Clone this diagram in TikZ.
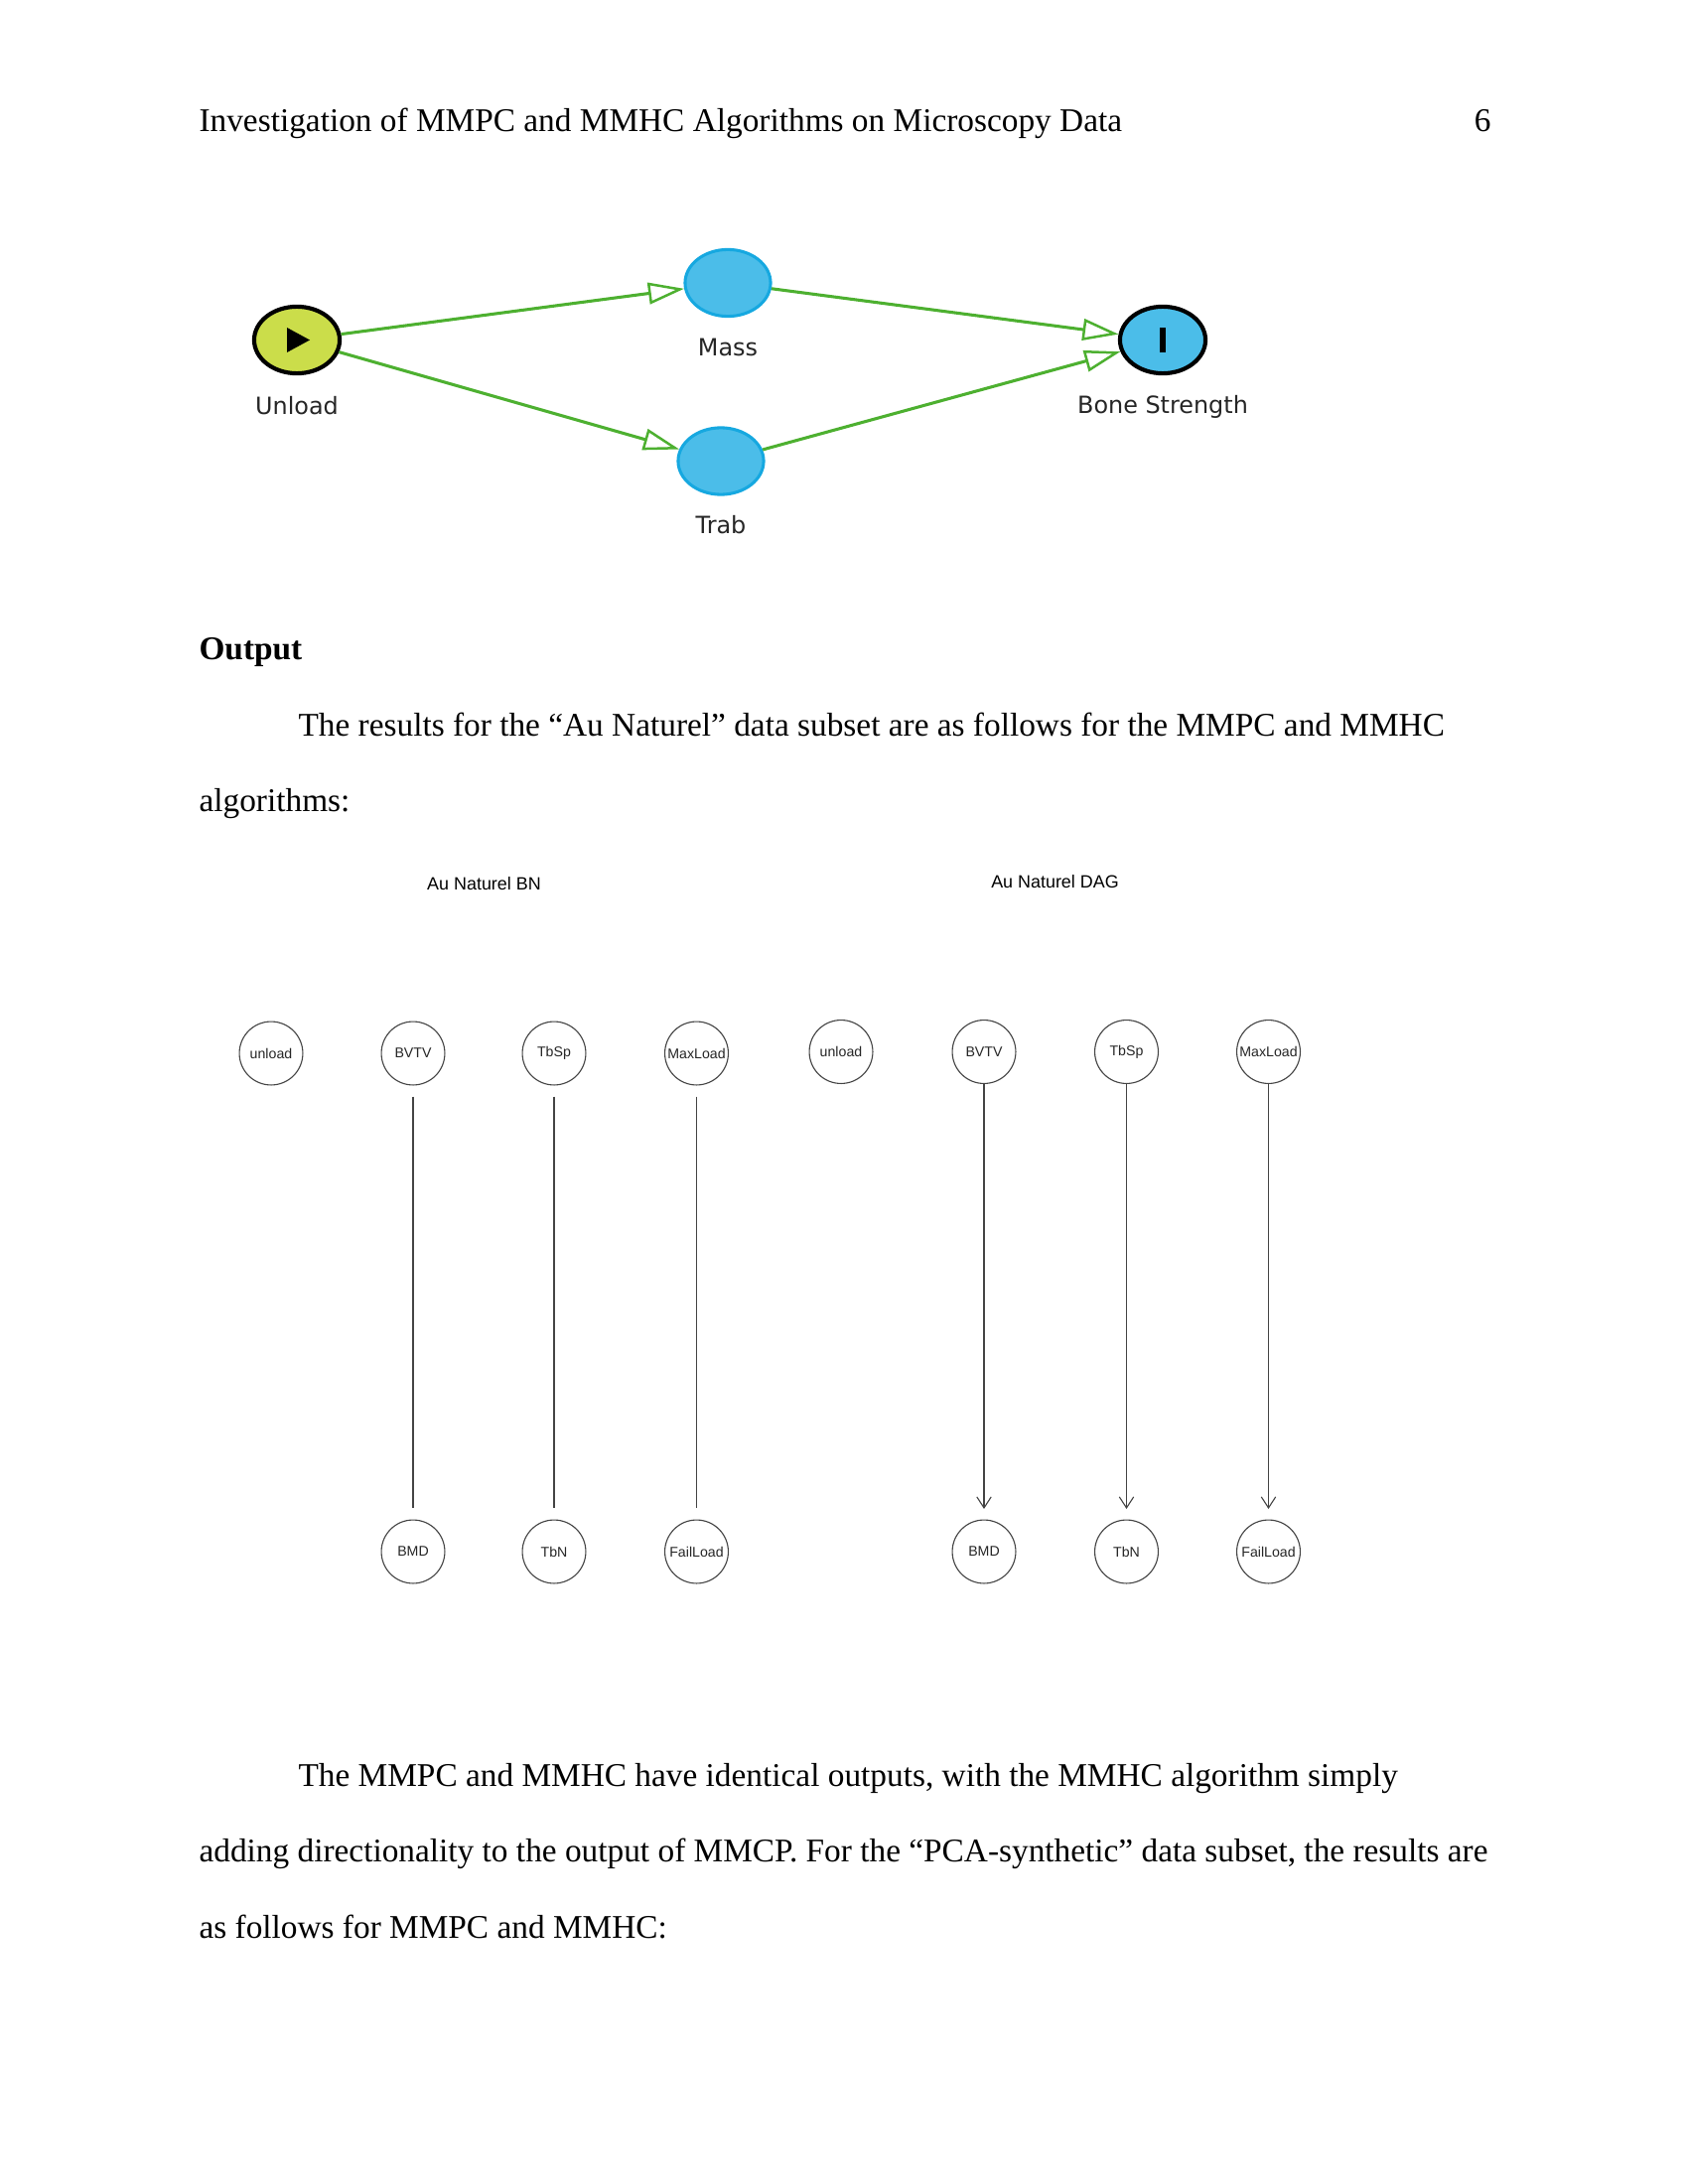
\documentclass[tikz,border=0pt]{standalone}
\usepackage{fontspec}
\setmainfont{Liberation Serif}
\newfontfamily\graphfont{Liberation Sans}
\newfontfamily\flowfont{DejaVu Sans}
\usetikzlibrary{arrows.meta,shapes.geometric}
\definecolor{flowgreen}{HTML}{4DB030}
\definecolor{flowblue}{HTML}{4BBDE9}
\definecolor{flowedge}{HTML}{16A8E0}
\definecolor{flowlime}{HTML}{CBDD4A}
\definecolor{graphline}{HTML}{444444}
\tikzset{
  x=0.36pt,y=-0.36pt,
  bodytext/.style={anchor=base west,inner sep=0pt,font=\fontsize{12}{12}\selectfont},
  flownode/.style={ellipse,minimum width=31pt,minimum height=24.2pt,inner sep=0pt,draw=flowedge,fill=flowblue,line width=1.1pt},
  flowstart/.style={flownode,draw=black,fill=flowlime,line width=1.5pt},
  flowend/.style={flownode,draw=black,line width=1.5pt},
  flowlabel/.style={inner sep=0pt,font=\flowfont\fontsize{8.6}{10}\selectfont,text=black!85},
  flowedgeline/.style={draw=flowgreen,line width=1.1pt,-{Triangle[open,length=13pt,width=7.8pt,line width=0.9pt]}},
  graphnode/.style={circle,draw=graphline,line width=0.4pt,minimum size=23pt,inner sep=0pt,font=\graphfont\fontsize{5.1}{6}\selectfont,text=black!85},
  graphtitle/.style={inner sep=0pt,font=\graphfont\fontsize{6.45}{8}\selectfont},
  undirectedline/.style={draw=graphline,line width=0.4pt,shorten <=4pt,shorten >=4pt},
  directedline/.style={draw=graphline,line width=0.4pt,shorten >=3.8pt,-{Straight Barb[length=4pt,width=5.2pt,line width=0.4pt]}},
}
\begin{document}
\begin{tikzpicture}
\useasboundingbox (0,0) rectangle (1700,2200);
\fill[white] (0,0) rectangle (1700,2200);
% header
\node[bodytext] (head) at (200,133) {Investigation of MMPC and MMHC Algorithms on Microscopy Data};
\node[bodytext,anchor=base east] (page) at (1502,133) {6};
% flow diagram
\node[flowstart] (unl) at (299,342.5) {};
\node[flownode] (mass) at (733,285) {};
\node[flownode] (trab) at (726,464.5) {};
\node[flowend] (bone) at (1171,342.5) {};
\fill[black] (289,330) -- (312,342.5) -- (289,355) -- cycle;
\fill[black] (1167.5,330) rectangle (1174,355);
\node[flowlabel] (l1) at (299,408.5) {Unload};
\node[flowlabel] (l2) at (733,349.5) {Mass};
\node[flowlabel] (l3) at (726,529) {Trab};
\node[flowlabel] (l4) at (1171,409.5) {Bone Strength};
\draw[flowedgeline] (unl) -- (mass);
\draw[flowedgeline] (unl) -- (trab);
\draw[flowedgeline] (mass) -- (bone);
\draw[flowedgeline] (trab) -- (bone);
% body text
\node[bodytext,font=\fontsize{12}{12}\selectfont\bfseries] (out) at (200,664.5) {Output};
\node[bodytext] (p1a) at (300,741.5) {The results for the “Au Naturel” data subset are as follows for the MMPC and MMHC};
\node[bodytext] (p1b) at (200,817.5) {algorithms:};
% graph titles
\node[graphtitle] (t1) at (487.5,890) {Au Naturel BN};
\node[graphtitle] (t2) at (1062.5,888) {Au Naturel DAG};
% BN graph
\node[graphnode] (a1) at (273,1061) {unload};
\node[graphnode] (a2) at (416,1061) {BVTV};
\node[graphnode] (a3) at (558,1061) {TbSp};
\node[graphnode] (a4) at (701.5,1061) {MaxLoad};
\node[graphnode] (a5) at (416,1563) {BMD};
\node[graphnode] (a6) at (558,1563) {TbN};
\node[graphnode] (a7) at (701.5,1563) {FailLoad};
\draw[undirectedline] (a2) -- (a5);
\draw[undirectedline] (a3) -- (a6);
\draw[undirectedline] (a4) -- (a7);
% DAG graph
\node[graphnode] (b1) at (847,1059.5) {unload};
\node[graphnode] (b2) at (991,1059.5) {BVTV};
\node[graphnode] (b3) at (1134.5,1059.5) {TbSp};
\node[graphnode] (b4) at (1277.5,1059.5) {MaxLoad};
\node[graphnode] (b5) at (991,1563) {BMD};
\node[graphnode] (b6) at (1134.5,1563) {TbN};
\node[graphnode] (b7) at (1277.5,1563) {FailLoad};
\draw[directedline] (b2) -- (b5);
\draw[directedline] (b3) -- (b6);
\draw[directedline] (b4) -- (b7);
% closing text
\node[bodytext] (p2a) at (300,1799) {The MMPC and MMHC have identical outputs, with the MMHC algorithm simply};
\node[bodytext] (p2b) at (200,1875.5) {adding directionality to the output of MMCP. For the “PCA-synthetic” data subset, the results are};
\node[bodytext] (p2c) at (200,1952) {as follows for MMPC and MMHC:};
\end{tikzpicture}
\end{document}
